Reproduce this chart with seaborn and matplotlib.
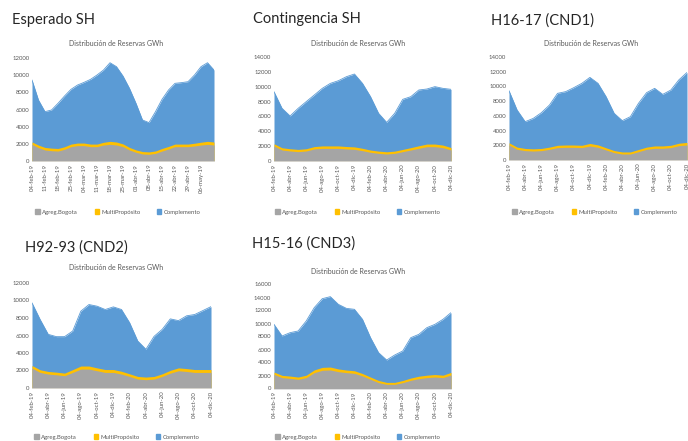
import numpy as np
import matplotlib.pyplot as plt
import seaborn as sns
from matplotlib.patches import Patch

sns.set_theme(style="white")
plt.rcParams["font.family"] = ["Lato", "DejaVu Sans"]

W, H = 688, 441
AZUL = "#5B9BD5"
GRIS = "#A5A5A5"
AMARILLO = "#FFC000"
TXT = "#595959"

# --- DATOS (GWh) ---
semanas = np.arange(0, 14.5, 0.5)
meses = np.arange(23)

etiquetas_semanas = ["04-feb-19", "11-feb-19", "18-feb-19", "25-feb-19", "04-mar-19", "11-mar-19",
                     "18-mar-19", "25-mar-19", "01-abr-19", "08-abr-19", "15-abr-19", "22-abr-19",
                     "29-abr-19", "06-may-19"]
etiquetas_meses = ["04-feb-19", "04-abr-19", "04-jun-19", "04-ago-19", "04-oct-19", "04-dic-19",
                   "04-feb-20", "04-abr-20", "04-jun-20", "04-ago-20", "04-oct-20", "04-dic-20"]

# Esperado SH
esp_total = [9440, 7100, 5750, 5940, 6720, 7570, 8350, 8850, 9160, 9510, 10020, 10600, 11450, 10990,
             9900, 8460, 6720, 4780, 4470, 5750, 7180, 8270, 9050, 9130, 9240, 10020, 10990, 11450, 10600]
esp_agreg = [1940, 1550, 1280, 1200, 1160, 1360, 1670, 1790, 1790, 1670, 1670, 1860, 1940, 1860,
             1670, 1280, 1010, 820, 780, 890, 1160, 1400, 1670, 1670, 1670, 1750, 1860, 1940, 1860]
esp_multi = [280, 300, 300, 300, 300, 300, 300, 300, 300, 300, 300, 320, 350, 350,
             320, 300, 280, 280, 280, 280, 300, 300, 300, 300, 300, 320, 330, 350, 350]

# Contingencia SH
con_total = [9330, 7090, 6060, 7090, 7990, 8880, 9780, 10450, 10810, 11350, 11710, 10450,
             8660, 6420, 5200, 6420, 8300, 8660, 9560, 9690, 10010, 9780, 9650]
con_agreg = [2020, 1480, 1350, 1260, 1350, 1620, 1700, 1700, 1700, 1620, 1570, 1390,
             1170, 1030, 940, 1030, 1260, 1480, 1700, 1930, 1930, 1790, 1480]
con_multi = [300, 300, 300, 300, 300, 320, 330, 330, 330, 330, 330, 320,
             300, 300, 300, 300, 300, 320, 350, 350, 350, 350, 330]

# H16-17 (CND1)
c1_total = [9420, 6800, 5210, 5660, 6430, 7470, 9060, 9290, 9830, 10420, 11230, 10420,
            8610, 6340, 5350, 5890, 7700, 9150, 9740, 8920, 9510, 10900, 11900]
c1_agreg = [2040, 1450, 1270, 1220, 1270, 1450, 1680, 1720, 1720, 1680, 1900, 1720,
            1360, 1000, 815, 815, 1130, 1450, 1590, 1590, 1680, 1950, 2040]
c1_multi = [300, 300, 300, 300, 300, 300, 320, 320, 320, 320, 350, 330,
            300, 280, 280, 280, 300, 300, 320, 320, 320, 330, 350]

# H92-93 (CND2)
c2_total = [9730, 7830, 6130, 5870, 5870, 6510, 8780, 9540, 9350, 8970, 9270, 8970,
            7460, 5370, 4430, 5900, 6700, 7900, 7700, 8250, 8400, 8850, 9300]
c2_agreg = [2270, 1780, 1590, 1510, 1400, 1780, 2160, 2160, 1970, 1780, 1780, 1590,
            1320, 1020, 950, 1020, 1320, 1700, 1970, 1890, 1780, 1780, 1780]
c2_multi = [300, 300, 300, 300, 300, 320, 350, 350, 330, 330, 330, 320,
            300, 300, 300, 300, 300, 320, 330, 330, 330, 330, 330]

# H15-16 (CND3)
c3_total = [9870, 8080, 8590, 8850, 10380, 12440, 13820, 14130, 12950, 12330, 12180, 10640,
            7820, 5510, 4380, 5150, 5770, 7820, 8330, 9360, 9870, 10640, 11670]
c3_agreg = [2180, 1670, 1560, 1410, 1670, 2440, 2800, 2850, 2590, 2440, 2330, 1920,
            1410, 900, 640, 640, 900, 1260, 1510, 1670, 1770, 1670, 2080]
c3_multi = [350, 350, 350, 350, 380, 420, 450, 450, 420, 400, 400, 380,
            350, 330, 300, 300, 330, 350, 380, 380, 380, 380, 400]


def rect(l, t, r, b):
    return [l / W, 1 - b / H, (r - l) / W, (b - t) / H]


def panel(fig, caja, x, total, agreg, multi, xmax, ymax, xticks, xlabels,
          titulo, pos_titulo, pos_sub, pos_ley):
    ax = fig.add_axes(rect(*caja))
    total = np.asarray(total)
    agreg = np.asarray(agreg)
    multi = np.asarray(multi)
    # areas apiladas: se pinta de arriba hacia abajo
    ax.fill_between(x, 0, total, color=AZUL, lw=0)
    sns.lineplot(x=x, y=total, ax=ax, color=AZUL, lw=0.6)
    ax.fill_between(x, 0, agreg + multi, color=AMARILLO, lw=0)
    ax.fill_between(x, 0, agreg, color=GRIS, lw=0)
    ax.set_xlim(0, xmax)
    ax.set_ylim(0, ymax)
    ax.set_yticks(np.arange(0, ymax + 1, 2000))
    ax.set_yticklabels([str(v) for v in range(0, ymax + 1, 2000)])
    ax.set_xticks(xticks)
    ax.set_xticklabels(xlabels, rotation=90)
    ax.tick_params(axis="both", length=0, labelsize=4.3, colors=TXT, pad=2)
    ax.set_xlabel("")
    ax.set_ylabel("")
    for s in ["top", "right", "left"]:
        ax.spines[s].set_visible(False)
    ax.spines["bottom"].set_color("#D9D9D9")
    ax.spines["bottom"].set_linewidth(0.6)
    ax.set_facecolor("none")

    fig.text(pos_titulo[0] / W, 1 - pos_titulo[1] / H, titulo, fontsize=10.5,
             color="#262626", ha="left", va="center")
    fig.text(pos_sub[0] / W, 1 - pos_sub[1] / H, "Distribución de Reservas GWh",
             fontsize=5, color=TXT, ha="center", va="center")
    handles = [Patch(color=GRIS, label="Agreg.Bogota"),
               Patch(color=AMARILLO, label="MultiPropósito"),
               Patch(color=AZUL, label="Complemento")]
    fig.legend(handles=handles, loc="center", ncol=3, frameon=False,
               bbox_to_anchor=(pos_ley[0] / W, 1 - pos_ley[1] / H),
               fontsize=4.3, labelcolor=TXT, handlelength=0.7, handleheight=0.7,
               handletextpad=0.4, columnspacing=2.8)
    return ax


fig = plt.figure(figsize=(W / 100, H / 100), dpi=100)

panel(fig, (32, 58, 214, 161), semanas, esp_total, esp_agreg, esp_multi, 14, 12000,
      np.arange(14), etiquetas_semanas, "Esperado SH", (12, 20), (116, 43), (118, 212))
panel(fig, (274, 57, 451, 161), meses, con_total, con_agreg, con_multi, 22, 14000,
      meses[::2], etiquetas_meses, "Contingencia SH", (253, 19), (358, 43), (358, 212))
panel(fig, (509, 57, 687, 160), meses, c1_total, c1_agreg, c1_multi, 22, 14000,
      meses[::2], etiquetas_meses, "H16-17 (CND1)", (491, 21), (591, 43), (595, 212))
panel(fig, (32, 283, 211, 388), meses, c2_total, c2_agreg, c2_multi, 22, 12000,
      meses[::2], etiquetas_meses, "H92-93 (CND2)", (25, 248), (116, 268), (117, 437))
panel(fig, (274, 284.5, 451, 388.5), meses, c3_total, c3_agreg, c3_multi, 22, 16000,
      meses[::2], etiquetas_meses, "H15-16 (CND3)", (252, 244), (358, 272), (358, 437))

fig.savefig("out.png", dpi=100)
